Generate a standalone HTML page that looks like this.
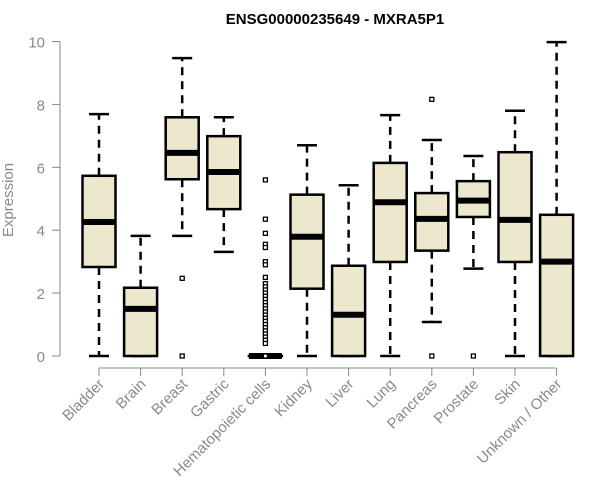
<!DOCTYPE html>
<html><head><meta charset="utf-8"><style>
body{margin:0;background:#fff}
svg{display:block;font-family:"Liberation Sans",Arial,sans-serif}
</style></head><body>
<svg id="chart" width="600" height="500" viewBox="0 0 600 500">
<text x="335" y="24" text-anchor="middle" font-weight="bold" font-size="15">ENSG00000235649 - MXRA5P1</text>
<text transform="translate(13,200) rotate(-90)" text-anchor="middle" font-size="15" fill="#8a8a8a">Expression</text>
<g id="g"></g>
</svg>
<script>
const categories=["Bladder","Brain","Breast","Gastric","Hematopoietic cells","Kidney","Liver","Lung","Pancreas","Prostate","Skin","Unknown / Other"];
const whiskerLow=[0,0,3.82,3.31,0,0,0,0,1.08,2.78,0,0];
const q1=[2.83,0,5.62,4.67,0,2.14,0,2.99,3.35,4.42,2.99,0];
const median=[4.26,1.50,6.46,5.85,0,3.79,1.31,4.89,4.36,4.94,4.33,3.00];
const q3=[5.73,2.17,7.59,6.99,0,5.13,2.87,6.14,5.18,5.56,6.48,4.49];
const whiskerHigh=[7.69,3.82,9.47,7.59,0,6.70,5.43,7.66,6.87,6.36,7.80,9.98];
const outliers=[[],[],[2.47,0],[],[5.6,4.35,3.9,3.55,3.45,3.0,2.9,2.5,2.3,2.2,2.1,2.0,1.9,1.8,1.7,1.6,1.5,1.4,1.3,1.2,1.1,1.0,0.9,0.8,0.7,0.6,0.5,0.4,0],[],[],[],[8.16,0],[0],[],[]];
const yTicks=[0,2,4,6,8,10];

const NS="http://www.w3.org/2000/svg";
const g=document.getElementById('g');
const y=v=>356-v*31.45;
const x=i=>99+i*41.6;
function el(t,a){const e=document.createElementNS(NS,t);for(const k in a)e.setAttribute(k,a[k]);g.appendChild(e);return e;}
let e=el('line',{x1:60,y1:y(0),x2:60,y2:y(10),stroke:'#888','stroke-width':1});

yTicks.forEach(t=>{
 let l=el('line',{x1:52,x2:60,y1:y(t),y2:y(t),stroke:'#888'});
 
 let tx=el('text',{x:45,y:y(t)+6,'text-anchor':'end','font-size':15,fill:'#8a8a8a'});tx.textContent=t;
 
});
e=el('line',{x1:x(0),x2:x(categories.length-1),y1:368,y2:368,stroke:'#888'});

categories.forEach((c,i)=>{
 const cx=x(i);
 let l=el('line',{x1:cx,x2:cx,y1:368,y2:376,stroke:'#888'});
 
 let t=el('text',{transform:`translate(${cx+6},${385}) rotate(-45)`,'text-anchor':'end','font-size':15,fill:'#8a8a8a'});t.textContent=c;
 
 const s={stroke:'#000','stroke-width':2.5,'stroke-dasharray':'8,6'};
 let w1=el('line',Object.assign({x1:cx,x2:cx,y1:y(q3[i]),y2:y(whiskerHigh[i])},s));
 
 let w2=el('line',Object.assign({x1:cx,x2:cx,y1:y(q1[i]),y2:y(whiskerLow[i])},s));
 
 [whiskerHigh[i],whiskerLow[i]].forEach(v=>{let cp=el('line',{x1:cx-10,x2:cx+10,y1:y(v),y2:y(v),stroke:'#000','stroke-width':2.5});
  });
 let b=el('rect',{x:cx-16.5,y:y(q3[i]),width:33,height:Math.max(y(q1[i])-y(q3[i]),0.01),fill:'#ede7cd',stroke:'#000','stroke-width':2.5});
 
 let m=el('line',{x1:cx-16.5,x2:cx+16.5,y1:y(median[i]),y2:y(median[i]),stroke:'#000','stroke-width':6});
 
 outliers[i].forEach(v=>{let o=el('rect',{x:cx-2,y:y(v)-2,width:4,height:4,fill:'#fff',stroke:'#000','stroke-width':1.3});
  });
});
</script>
</body></html>
